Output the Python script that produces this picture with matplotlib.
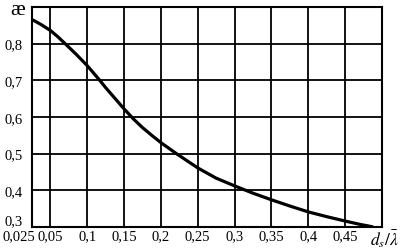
import matplotlib
matplotlib.use("Agg")
import matplotlib.pyplot as plt
from matplotlib.transforms import offset_copy

# curve
ds_lambda = [0.025, 0.0375, 0.05, 0.06, 0.07, 0.085, 0.1, 0.117, 0.125, 0.15, 0.1625,
             0.175, 0.1875, 0.2, 0.221, 0.25, 0.275, 0.3, 0.325, 0.35, 0.375, 0.4,
             0.425, 0.45, 0.47, 0.488]
ae = [0.866, 0.852, 0.836, 0.819, 0.80, 0.771, 0.740, 0.70, 0.68, 0.622, 0.595,
      0.571, 0.550, 0.530, 0.50, 0.461, 0.433, 0.412, 0.392, 0.374, 0.357, 0.341,
      0.328, 0.316, 0.307, 0.30]

x_ticks = [0.025, 0.05, 0.1, 0.15, 0.2, 0.25, 0.3, 0.35, 0.4, 0.45, 0.5]
x_labels = ["0,025", "0,05", "0,1", "0,15", "0,2", "0,25", "0,3", "0,35", "0,4", "0,45", ""]
y_ticks = [0.3, 0.4, 0.5, 0.6, 0.7, 0.8, 0.9]
y_labels = ["0,3", "0,4", "0,5", "0,6", "0,7", "0,8", ""]

plt.rcParams["font.family"] = ["Liberation Serif", "DejaVu Serif"]
plt.rcParams["mathtext.fontset"] = "stix"

fig = plt.figure(figsize=(4.05, 2.51), dpi=100)
ax = fig.add_axes([0.079, 0.092, 0.864, 0.876])

ax.plot(ds_lambda, ae, color="black", lw=2.3, solid_joinstyle="round", solid_capstyle="butt")

ax.set_xlim(0.025, 0.5)
ax.set_ylim(0.3, 0.9)
ax.set_xticks(x_ticks)
ax.set_xticklabels(x_labels)
ax.set_yticks(y_ticks)
ax.set_yticklabels(y_labels)
ax.tick_params(length=0, labelsize=10.5)
ax.tick_params(axis="x", pad=2)
ax.tick_params(axis="y", pad=7)

# first x label sits to the left of its gridline, lowest y label above the frame edge
lab0 = ax.get_xticklabels()[0]
lab0.set_ha("right")
lab0.set_transform(offset_copy(lab0.get_transform(), fig=fig, x=2, y=0, units="points"))
ax.get_yticklabels()[0].set_va("bottom")

ax.grid(True, color="black", lw=1.3)
for s in ax.spines.values():
    s.set_linewidth(1.5)

fig.text(0.043, 0.995, "æ", fontsize=16, ha="center", va="top")
fig.text(0.948, 0.045, r"$d_s/\bar{\lambda}$", fontsize=12.5, ha="center", va="center")

fig.savefig("out.png", dpi=100)
